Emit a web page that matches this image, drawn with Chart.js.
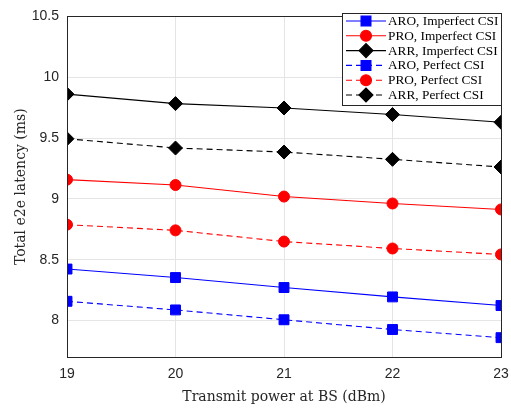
<!DOCTYPE html>
<html>
<head>
<meta charset="utf-8">
<script src="https://cdn.jsdelivr.net/npm/chart.js@4.4.0/dist/chart.umd.min.js"></script>
<style>
html,body{margin:0;padding:0;background:#fff;}
#wrap{width:511px;height:409px;position:relative;}
</style>
</head>
<body>
<div id="wrap"><canvas id="c" width="511" height="409"></canvas></div>
<script>
const powers = [19, 20, 21, 22, 23];
const yTicks = [8, 8.5, 9, 9.5, 10, 10.5];
const aroImperfect = [8.423, 8.353, 8.271, 8.194, 8.123];
const proImperfect = [9.158, 9.114, 9.019, 8.962, 8.913];
const arrImperfect = [9.861, 9.783, 9.747, 9.693, 9.630];
const aroPerfect = [8.158, 8.087, 8.006, 7.926, 7.859];
const proPerfect = [8.788, 8.741, 8.649, 8.592, 8.543];
const arrPerfect = [9.494, 9.418, 9.385, 9.325, 9.262];
const seriesLabels = ['ARO, Imperfect CSI','PRO, Imperfect CSI','ARR, Imperfect CSI','ARO, Perfect CSI','PRO, Perfect CSI','ARR, Perfect CSI'];

const BLUE = '#0000ff', RED = '#ff0000', BLACK = '#000000';
function ds(label, vals, color, shape, radius, dashed){
  return {
    label: label,
    data: vals.map((v,i)=>({x: powers[i], y: v})),
    borderColor: color,
    backgroundColor: color,
    pointBackgroundColor: color,
    pointBorderColor: color,
    pointStyle: shape,
    pointRadius: radius,
    pointHoverRadius: radius,
    pointBorderWidth: 1,
    borderWidth: 1.1,
    borderDash: dashed ? [6,4] : [],
    tension: 0,
    fill: false
  };
}
const datasets = [
  ds(seriesLabels[0], aroImperfect, BLUE, 'rect', 7, false),
  ds(seriesLabels[1], proImperfect, RED, 'circle', 5.5, false),
  ds(seriesLabels[2], arrImperfect, BLACK, 'rectRot', 7, false),
  ds(seriesLabels[3], aroPerfect, BLUE, 'rect', 7, true),
  ds(seriesLabels[4], proPerfect, RED, 'circle', 5.5, true),
  ds(seriesLabels[5], arrPerfect, BLACK, 'rectRot', 7, true)
];

const framePlugin = {
  id: 'frame',
  afterDatasetsDraw(chart){
    const ctx = chart.ctx, a = chart.chartArea;
    ctx.save();
    ctx.strokeStyle = '#262626';
    ctx.lineWidth = 1;
    ctx.beginPath();
    ctx.rect(Math.round(a.left)+0.5, Math.round(a.top)+0.5, Math.round(a.right-a.left), Math.round(a.bottom-a.top));
    ctx.stroke();
    ctx.restore();
  },
  afterDraw(chart){
    const ctx = chart.ctx;
    const bx = 342, by = 13, bw = 159, bh = 92;
    ctx.save();
    ctx.fillStyle = '#fff';
    ctx.fillRect(bx, by, bw, bh);
    ctx.strokeStyle = '#262626';
    ctx.lineWidth = 1;
    ctx.strokeRect(bx+0.5, by+0.5, bw, bh);
    const rowH = 14.8;
    chart.data.datasets.forEach((d, i) => {
      const cy = by + 8 + rowH * i;
      ctx.strokeStyle = d.borderColor;
      ctx.lineWidth = d.borderWidth;
      ctx.setLineDash(d.borderDash);
      ctx.beginPath();
      ctx.moveTo(346, cy);
      ctx.lineTo(386, cy);
      ctx.stroke();
      ctx.setLineDash([]);
      ctx.fillStyle = d.pointBackgroundColor;
      ctx.strokeStyle = d.pointBorderColor;
      Chart.helpers.drawPoint(ctx, {pointStyle: d.pointStyle, radius: d.pointRadius, borderWidth: 1, rotation: 0}, 366, cy);
      ctx.fillStyle = '#000';
      ctx.font = '13.3px "Liberation Serif", "DejaVu Serif", serif';
      ctx.textBaseline = 'middle';
      ctx.textAlign = 'left';
      ctx.fillText(d.label, 388, cy + 0.5);
    });
    ctx.restore();
  }
};

new Chart(document.getElementById('c'), {
  type: 'line',
  data: { datasets: datasets },
  plugins: [framePlugin],
  options: {
    responsive: false,
    animation: false,
    events: [],
    layout: { padding: { left: 13, right: 10, top: 14, bottom: 3 } },
    plugins: { legend: { display: false }, tooltip: { enabled: false } },
    scales: {
      x: {
        type: 'linear',
        min: 19, max: 23,
        afterBuildTicks(scale){ scale.ticks = powers.map(v => ({value: v})); },
        afterFit(scale){ scale.height = 49; scale.paddingRight = 0; scale.paddingLeft = 0; },
        grid: { color: '#e5e5e5', lineWidth: 1, drawTicks: false },
        border: { color: '#262626', width: 1 },
        ticks: { color: '#262626', padding: 9, font: { family: 'Liberation Sans, Arial, sans-serif', size: 14 }, callback: v => String(v) },
        title: { display: true, text: 'Transmit power at BS (dBm)', color: '#262626', padding: { top: 0, bottom: 0 }, font: { family: '"DejaVu Serif", serif', size: 14 } }
      },
      y: {
        type: 'linear',
        min: 7.7, max: 10.5,
        afterBuildTicks(scale){ scale.ticks = yTicks.map(v => ({value: v})); },
        afterFit(scale){ scale.width = 54; },
        grid: { color: '#e5e5e5', lineWidth: 1, drawTicks: false },
        border: { color: '#262626', width: 1 },
        ticks: { color: '#262626', padding: 8, font: { family: 'Liberation Sans, Arial, sans-serif', size: 14 }, callback: v => String(v) },
        title: { display: true, text: 'Total e2e latency (ms)', color: '#262626', padding: { top: 0, bottom: 4 }, font: { family: '"DejaVu Serif", serif', size: 14 } }
      }
    }
  }
});
</script>
</body>
</html>
